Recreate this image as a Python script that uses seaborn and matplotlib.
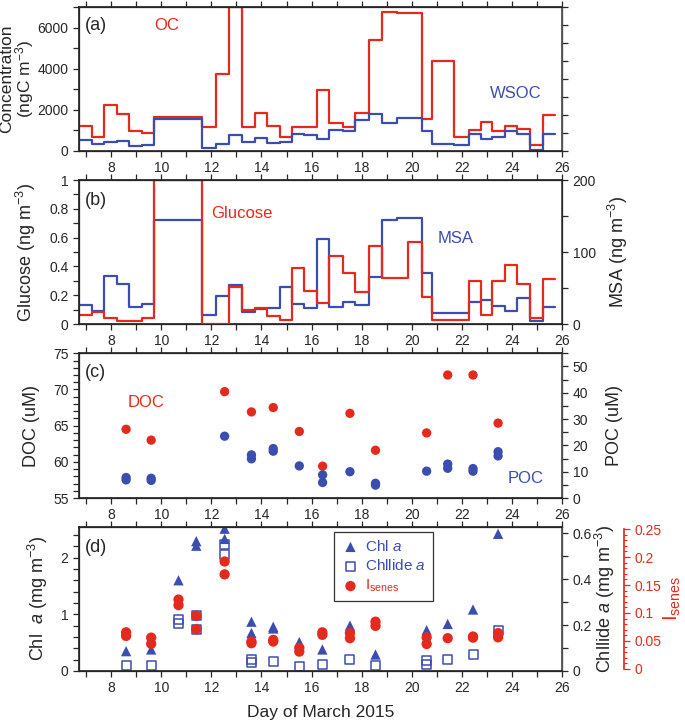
import numpy as np
import matplotlib
matplotlib.use('Agg')
import matplotlib.pyplot as plt
from matplotlib.ticker import MultipleLocator, FuncFormatter
import seaborn as sns

sns.set_theme(style="ticks")
plt.rcParams['font.family'] = ['Liberation Sans', 'DejaVu Sans']
plt.rcParams['mathtext.fontset'] = 'custom'
plt.rcParams['mathtext.rm'] = 'Liberation Sans'
plt.rcParams['mathtext.it'] = 'Liberation Sans:italic'
plt.rcParams['mathtext.default'] = 'regular'
plt.rcParams['axes.unicode_minus'] = False

RED = '#e42a1d'
BLUE = '#3c4db0'

# ---- (a) OC / WSOC step data (ngC m-3) ----
edges = [6.75, 7.24, 7.73, 8.24, 8.73, 9.24, 9.73, 11.64, 12.2, 12.7, 13.21, 13.73,
         14.22, 14.73, 15.22, 15.71, 16.2, 16.7, 17.24, 17.73, 18.3, 18.8, 19.4, 20.4,
         20.8, 21.7, 22.26, 22.77, 23.2, 23.7, 24.2, 24.7, 25.22, 25.73]
oc = [1210, 695, 2248, 1779, 970, 873, 1633, 1164, 3719, 7000, 1164, 1843,
      1213, 663, 1164, 1164, 2959, 1374, 1164, 1843, 5417, 6743, 6711, 1568,
      4366, 679, 1019, 1407, 954, 1197, 1051, 275, 1763]
wsoc = [534, 356, 420, 485, 243, 307, 1568, 129, 356, 776, 453, 647,
        388, 420, 841, 776, 598, 1035, 954, 1504, 1811, 1342, 1617, 970,
        323, 291, 841, 598, 695, 970, 841, 49, 841]

# ---- (b) glucose (ng m-3) and MSA (ng m-3) ----
glu_edges = [6.75, 7.24, 7.73, 8.24, 8.73, 9.24, 9.73, 11.64, 12.2, 12.7, 13.21, 13.73,
             14.22, 14.73, 15.22, 15.71, 16.2, 16.7, 17.24, 17.73, 18.3, 18.8, 19.86, 20.4,
             20.8, 21.7, 22.26, 22.77, 23.2, 23.7, 24.2, 24.7, 25.22, 25.73]
glucose = [0.063, 0.086, 0.039, 0.023, 0.019, 0.039, 1.0, 0.0, 0.0, 0.255, 0.10, 0.111,
           0.053, 0.03, 0.386, 0.226, 0.145, 0.469, 0.351, 0.222, 0.540, 0.323, 0.573, 0.189,
           0.03, 0.03, 0.298, 0.062, 0.298, 0.413, 0.275, 0.039, 0.314]
msa = [26, 17.6, 66.8, 55.7, 23.2, 27.8, 143.9, 12.5, 39, 54.3, 16.7, 20.9,
       21.7, 50.8, 27.3, 22.2, 117.8, 24.0, 31.0, 26.8, 66.0, 144.6, 146.9, 70.7,
       14.8, 14.8, 30.0, 32.8, 24.9, 17.6, 36.0, 4.6, 23.1]

# ---- (c) DOC / POC (uM) ----
doc_day = [8.6, 9.6, 12.53, 13.6, 14.47, 15.51, 16.44, 17.53, 18.55, 20.59, 21.43, 22.44, 23.44]
doc = [64.5, 63.0, 69.7, 66.9, 67.5, 64.2, 59.4, 66.7, 61.6, 64.0, 72.0, 72.0, 65.35]
poc_day = [8.6, 8.6, 9.6, 9.6, 12.53, 13.6, 13.6, 14.47, 14.47, 15.51, 16.44, 16.44, 17.53,
           18.55, 18.55, 20.59, 21.43, 21.43, 22.44, 22.44, 23.44, 23.44]
poc = [7.8, 6.9, 7.5, 6.7, 23.5, 16.4, 14.9, 18.8, 17.8, 12.2, 8.8, 5.9, 10.0,
       5.6, 4.9, 10.2, 12.9, 11.3, 11.2, 10.2, 17.6, 16.0]

# ---- (d) Chl a, Chllide a (mg m-3), Isenes ----
chl_day = [8.6, 9.6, 10.69, 11.4, 11.4, 12.53, 12.53, 13.6, 13.6, 14.47, 14.47, 15.51, 16.43,
           17.53, 17.53, 18.55, 20.59, 21.43, 22.44, 23.44]
chl = [0.35, 0.38, 1.60, 2.29, 2.21, 2.51, 2.33, 0.87, 0.67, 0.78, 0.75, 0.51, 0.38,
       0.80, 0.77, 0.29, 0.72, 0.83, 1.085, 2.42]
chlide_day = [8.6, 9.6, 10.69, 10.69, 11.4, 11.4, 12.53, 12.53, 13.6, 13.6, 14.47, 15.51, 16.43,
              17.53, 18.55, 20.59, 20.59, 21.43, 22.44, 23.44]
chlide = [0.025, 0.022, 0.225, 0.207, 0.24, 0.18, 0.552, 0.509, 0.051, 0.036, 0.043, 0.019, 0.029,
          0.051, 0.026, 0.046, 0.030, 0.051, 0.070, 0.178]
isen_day = [8.6, 8.6, 9.6, 9.6, 10.69, 10.69, 11.4, 11.4, 12.53, 12.53, 13.6, 13.6, 14.47, 14.47,
            15.51, 15.51, 16.43, 16.43, 17.53, 17.53, 18.55, 18.55, 20.59, 20.59, 21.43,
            22.44, 22.44, 23.44, 23.44]
isenes = [0.0655, 0.059, 0.056, 0.045, 0.124, 0.114, 0.095, 0.071, 0.192, 0.169, 0.049, 0.046,
          0.052, 0.049, 0.0375, 0.031, 0.0655, 0.061, 0.064, 0.055, 0.0845, 0.077, 0.0565, 0.0446,
          0.055, 0.058, 0.056, 0.064, 0.0565]

XLIM = (6.72, 26)
TFS = 10
LFS = 13
gfmt = FuncFormatter(lambda v, p: '%g' % round(v, 4))


def steps(ax, x, y, color):
    sns.lineplot(x=x, y=list(y) + [y[-1]], drawstyle='steps-post', estimator=None, sort=False,
                 color=color, linewidth=1.6, legend=False, ax=ax)


def style_x(ax):
    ax.set_xlim(*XLIM)
    ax.xaxis.set_major_locator(MultipleLocator(2))
    ax.xaxis.set_minor_locator(MultipleLocator(1))
    ax.tick_params(axis='x', which='both', direction='out', top=True, bottom=True,
                   length=4, width=0.9, labelsize=TFS)
    ax.tick_params(axis='y', which='both', direction='out', length=4, width=0.9, labelsize=TFS)
    ax.set_xlabel('')
    for s in ax.spines.values():
        s.set_linewidth(0.9)


def right_axis(ax):
    ax.tick_params(axis='y', which='both', direction='out', length=4, width=0.9, labelsize=TFS)
    ax.spines['right'].set_color('#555555')
    ax.spines['right'].set_linewidth(1.3)


fig = plt.figure(figsize=(6.85, 7.28), dpi=100)
L, W, H = 0.1153, 0.7055, 0.1978
ax_a = fig.add_axes([L, 0.7926, W, H])
ax_b = fig.add_axes([L, 0.5549, W, H])
ax_c = fig.add_axes([L, 0.3159, W, H + 0.001])
ax_d = fig.add_axes([L, 0.0783, W, H])

# (a)
steps(ax_a, edges, oc, RED)
steps(ax_a, edges, wsoc, BLUE)
style_x(ax_a)
ax_a.set_ylim(0, 7000)
ax_a.yaxis.set_major_locator(MultipleLocator(2000))
ax_a.yaxis.set_minor_locator(MultipleLocator(1000))
ax_a.set_ylabel('Concentration\n(ngC m$^{-3}$)', fontsize=12.5, linespacing=0.95)
ax_a.yaxis.set_label_coords(-0.088, 0.5)
ax_a2 = ax_a.twinx()
ax_a2.set_ylim(0, 8)
ax_a2.yaxis.set_major_locator(MultipleLocator(1))
right_axis(ax_a2)
ax_a2.tick_params(axis='y', labelright=False)
ax_a.text(0.012, 0.87, '(a)', transform=ax_a.transAxes, fontsize=LFS, va='center')
ax_a.text(0.155, 0.87, 'OC', transform=ax_a.transAxes, fontsize=12, color=RED, va='center')
ax_a.text(0.85, 0.40, 'WSOC', transform=ax_a.transAxes, fontsize=12, color=BLUE, va='center')

# (b)
ax_b2 = ax_b.twinx()
steps(ax_b2, edges, msa, BLUE)
steps(ax_b, glu_edges, glucose, RED)
ax_b.set_zorder(ax_b2.get_zorder() + 1)
ax_b.patch.set_visible(False)
style_x(ax_b)
ax_b.set_ylim(0, 1)
ax_b.yaxis.set_major_locator(MultipleLocator(0.2))
ax_b.yaxis.set_minor_locator(MultipleLocator(0.1))
ax_b.yaxis.set_major_formatter(gfmt)
ax_b.set_ylabel('Glucose (ng m$^{-3}$)', fontsize=LFS)
ax_b.yaxis.set_label_coords(-0.085, 0.5)
ax_b2.set_ylim(0, 200)
ax_b2.yaxis.set_major_locator(MultipleLocator(100))
ax_b2.yaxis.set_minor_locator(MultipleLocator(50))
right_axis(ax_b2)
ax_b2.set_ylabel('MSA (ng m$^{-3}$)', fontsize=LFS)
ax_b2.yaxis.set_label_coords(1.09, 0.5)
ax_b.text(0.012, 0.86, '(b)', transform=ax_b.transAxes, fontsize=LFS, va='center')
ax_b.text(0.273, 0.77, 'Glucose', transform=ax_b.transAxes, fontsize=12, color=RED, va='center')
ax_b.text(0.742, 0.597, 'MSA', transform=ax_b.transAxes, fontsize=12, color=BLUE, va='center')

# (c)
sns.scatterplot(x=doc_day, y=doc, color=RED, s=45, edgecolor='none', legend=False, ax=ax_c)
style_x(ax_c)
ax_c.set_ylim(55, 75)
ax_c.yaxis.set_major_locator(MultipleLocator(5))
ax_c.yaxis.set_minor_locator(MultipleLocator(1))
ax_c.set_ylabel('DOC (uM)', fontsize=LFS)
ax_c.yaxis.set_label_coords(-0.08, 0.5)
ax_c2 = ax_c.twinx()
sns.scatterplot(x=poc_day, y=poc, color=BLUE, s=45, edgecolor='none', legend=False, ax=ax_c2)
ax_c2.set_ylim(0, 55)
ax_c2.yaxis.set_major_locator(MultipleLocator(10))
ax_c2.yaxis.set_minor_locator(MultipleLocator(5))
right_axis(ax_c2)
ax_c2.set_ylabel('POC (uM)', fontsize=LFS)
ax_c2.yaxis.set_label_coords(1.09, 0.5)
ax_c.text(0.012, 0.87, '(c)', transform=ax_c.transAxes, fontsize=LFS, va='center')
ax_c.text(0.101, 0.662, 'DOC', transform=ax_c.transAxes, fontsize=12, color=RED, va='center')
ax_c.text(0.887, 0.138, 'POC', transform=ax_c.transAxes, fontsize=12, color=BLUE, va='center')

# (d)
sns.scatterplot(x=chl_day, y=chl, color=BLUE, marker='^', s=55, edgecolor='none',
                label='Chl $\\mathit{a}$', legend=False, ax=ax_d)
style_x(ax_d)
ax_d.set_ylim(0, 2.54)
ax_d.yaxis.set_major_locator(MultipleLocator(1))
ax_d.yaxis.set_minor_locator(MultipleLocator(0.2))
ax_d.set_ylabel('Chl  $\\mathit{a}$ (mg m$^{-3}$)', fontsize=LFS)
ax_d.yaxis.set_label_coords(-0.06, 0.5)
ax_d.set_xlabel('Day of March 2015', fontsize=12.5, labelpad=7)

ax_d2 = ax_d.twinx()
sns.scatterplot(x=chlide_day, y=chlide, marker='s', s=42, facecolor='none', edgecolor=BLUE,
                linewidth=1.1, label='Chllide $\\mathit{a}$', legend=False, ax=ax_d2)
for c in ax_d2.collections:
    c.set_facecolor('none')
    c.set_edgecolor(BLUE)
ax_d2.set_ylim(0, 0.6275)
ax_d2.yaxis.set_major_locator(MultipleLocator(0.2))
ax_d2.yaxis.set_minor_locator(MultipleLocator(0.1))
ax_d2.yaxis.set_major_formatter(gfmt)
right_axis(ax_d2)
ax_d2.set_ylabel('Chllide $\\mathit{a}$ (mg m$^{-3}$)', fontsize=LFS)
ax_d2.yaxis.set_label_coords(1.063, 0.5)

ax_d3 = ax_d.twinx()
sns.scatterplot(x=isen_day, y=isenes, color=RED, s=55, edgecolor='none',
                label='I$_{senes}$', legend=False, ax=ax_d3)
ax_d3.set_ylim(-0.0036, 0.2536)
ax_d3.spines['right'].set_position(('axes', 1.127))
ax_d3.spines['right'].set_bounds(0, 0.25)
ax_d3.spines['right'].set_color(RED)
for k in ['top', 'bottom', 'left']:
    ax_d3.spines[k].set_visible(False)
ax_d3.yaxis.set_major_locator(MultipleLocator(0.05))
ax_d3.yaxis.set_minor_locator(MultipleLocator(0.01))
ax_d3.yaxis.set_major_formatter(gfmt)
ax_d3.tick_params(axis='y', which='major', direction='out', length=4, width=0.9,
                  labelsize=TFS, colors=RED)
ax_d3.tick_params(axis='y', which='minor', direction='out', length=2.5, width=0.8, colors=RED)
ax_d3.set_ylabel('I$_{senes}$', fontsize=14.5, color=RED)
ax_d3.yaxis.set_label_coords(1.206, 0.5)
ax_d.text(0.012, 0.86, '(d)', transform=ax_d.transAxes, fontsize=LFS, va='center')

h1, l1 = ax_d.get_legend_handles_labels()
h2, l2 = ax_d2.get_legend_handles_labels()
h3, l3 = ax_d3.get_legend_handles_labels()
leg = ax_d3.legend(h1 + h2 + h3, l1 + l2 + l3, loc='upper left', bbox_to_anchor=(0.527, 0.965),
                   borderaxespad=0, frameon=True, fancybox=False, fontsize=11,
                   handletextpad=0.3, handlelength=1.3, borderpad=0.45, labelspacing=0.3)
leg.get_frame().set_edgecolor('black')
leg.get_frame().set_linewidth(0.9)
for t, col in zip(leg.get_texts(), [BLUE, BLUE, RED]):
    t.set_color(col)
lh = leg.legend_handles
lh[1].set_facecolor('none')
lh[1].set_edgecolor(BLUE)

fig.savefig('out.png', dpi=100)
